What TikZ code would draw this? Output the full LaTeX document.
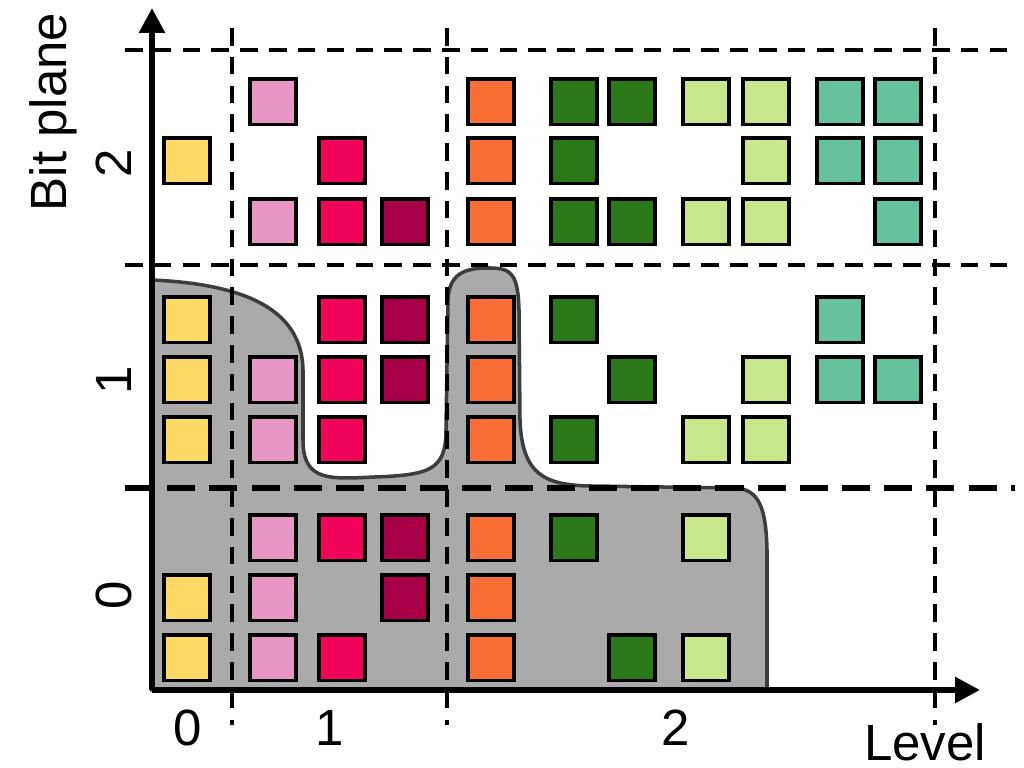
\documentclass[tikz,border=0pt]{standalone}
\usepackage{fontspec}
\setmainfont{Liberation Sans}
\usetikzlibrary{arrows.meta}
\definecolor{cYel}{HTML}{FFD966}
\definecolor{cPink}{HTML}{E896C3}
\definecolor{cRed}{HTML}{F0045C}
\definecolor{cDRed}{HTML}{A80048}
\definecolor{cOra}{HTML}{F86E34}
\definecolor{cDGrn}{HTML}{2A7818}
\definecolor{cLGrn}{HTML}{C8E68C}
\definecolor{cTeal}{HTML}{66C29C}
\definecolor{cGray}{HTML}{AAAAAA}
\definecolor{cEdge}{HTML}{3C3C3C}
\tikzset{
  cell/.style={draw=black, line width=1pt, minimum size=0.455cm, inner sep=0pt},
  sepline/.style={line width=1pt, dash pattern=on 5pt off 3.2pt},
  bitline/.style={line width=1.6pt, dash pattern=on 8pt off 4pt},
  axisline/.style={line width=1.6pt, -{Triangle[length=0.25cm, width=0.25cm]}},
  lbl/.style={font=\fontsize{14.5}{17}\selectfont, inner sep=0pt},
  region/.style={fill=cGray, draw=cEdge, line width=1pt}
}

\begin{document}
\begin{tikzpicture}[x=1cm,y=1cm]
  \useasboundingbox (-1.52,-0.78) rectangle (8.72,6.90);

  % decoded region
  \draw[region] (0,0) -- (0,4.10)
    .. controls (0.90,4.06) and (1.50,3.82) .. (1.51,3.20)
    -- (1.51,2.50)
    .. controls (1.51,2.08) and (1.78,2.11) .. (2.23,2.13)
    .. controls (2.78,2.15) and (2.94,2.20) .. (2.94,2.60)
    -- (2.96,3.90)
    .. controls (2.97,4.20) and (3.18,4.22) .. (3.38,4.22)
    .. controls (3.60,4.22) and (3.66,4.15) .. (3.67,3.80)
    -- (3.68,2.70)
    .. controls (3.70,2.15) and (3.93,2.05) .. (4.38,2.04)
    -- (5.83,2.02)
    .. controls (6.08,2.01) and (6.14,1.80) .. (6.15,1.40)
    -- (6.15,0) -- cycle;

  % separators
  \foreach \y in {6.40,4.25} \draw[sepline] (-0.27,\y) -- (8.63,\y);
  \draw[bitline] (-0.27,2.02) -- (8.63,2.02);
  \foreach \x in {0.80,2.95,7.83} \draw[sepline] (\x,6.62) -- (\x,-0.35);

  % bit plane 2
  \foreach \x/\c [count=\i] in {1.21/cPink,3.39/cOra,4.22/cDGrn,4.80/cDGrn,5.54/cLGrn,6.14/cLGrn,6.88/cTeal,7.46/cTeal}
    \node[cell, fill=\c] (r8-\i) at (\x,5.88) {};
  \foreach \x/\c [count=\i] in {0.35/cYel,1.90/cRed,3.39/cOra,4.22/cDGrn,6.14/cLGrn,6.88/cTeal,7.46/cTeal}
    \node[cell, fill=\c] (r7-\i) at (\x,5.29) {};
  \foreach \x/\c [count=\i] in {1.21/cPink,1.90/cRed,2.53/cDRed,3.39/cOra,4.22/cDGrn,4.80/cDGrn,5.54/cLGrn,6.14/cLGrn,7.46/cTeal}
    \node[cell, fill=\c] (r6-\i) at (\x,4.68) {};

  % bit plane 1
  \foreach \x/\c [count=\i] in {0.35/cYel,1.90/cRed,2.53/cDRed,3.39/cOra,4.22/cDGrn,6.88/cTeal}
    \node[cell, fill=\c] (r5-\i) at (\x,3.70) {};
  \foreach \x/\c [count=\i] in {0.35/cYel,1.21/cPink,1.90/cRed,2.53/cDRed,3.39/cOra,4.80/cDGrn,6.14/cLGrn,6.88/cTeal,7.46/cTeal}
    \node[cell, fill=\c] (r4-\i) at (\x,3.10) {};
  \foreach \x/\c [count=\i] in {0.35/cYel,1.21/cPink,1.90/cRed,3.39/cOra,4.22/cDGrn,5.54/cLGrn,6.14/cLGrn}
    \node[cell, fill=\c] (r3-\i) at (\x,2.50) {};

  % bit plane 0
  \foreach \x/\c [count=\i] in {1.21/cPink,1.90/cRed,2.53/cDRed,3.39/cOra,4.22/cDGrn,5.54/cLGrn}
    \node[cell, fill=\c] (r2-\i) at (\x,1.52) {};
  \foreach \x/\c [count=\i] in {0.35/cYel,1.21/cPink,2.53/cDRed,3.39/cOra}
    \node[cell, fill=\c] (r1-\i) at (\x,0.92) {};
  \foreach \x/\c [count=\i] in {0.35/cYel,1.21/cPink,1.90/cRed,3.39/cOra,4.80/cDGrn,5.54/cLGrn}
    \node[cell, fill=\c] (r0-\i) at (\x,0.32) {};

  % axes
  \coordinate (origin) at (0,0);
  \coordinate (ytip) at (0,6.82);
  \coordinate (xtip) at (8.28,0);
  \draw[axisline] (origin) -- (ytip);
  \draw[axisline] (origin) -- (xtip);

  \node[lbl, rotate=90] (bitlbl) at (-0.99,5.78) {Bit plane};
  \node[lbl, rotate=90] (bp2) at (-0.38,5.27) {2};
  \node[lbl, rotate=90] (bp1) at (-0.38,3.10) {1};
  \node[lbl, rotate=90] (bp0) at (-0.38,0.95) {0};
  \node[lbl] (lv0) at (0.36,-0.38) {0};
  \node[lbl] (lv1) at (1.78,-0.38) {1};
  \node[lbl] (lv2) at (5.24,-0.38) {2};
  \node[lbl] (lvllbl) at (7.73,-0.52) {Level};
\end{tikzpicture}
\end{document}
